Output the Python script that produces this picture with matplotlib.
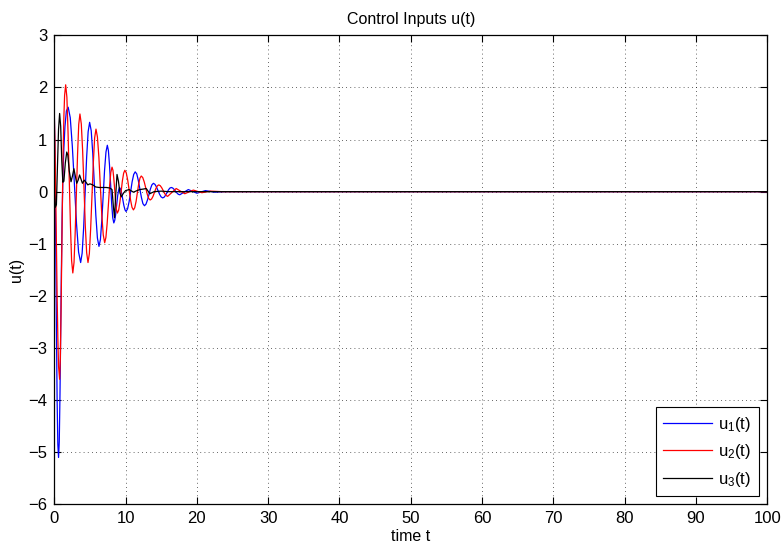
import matplotlib
matplotlib.use("Agg")
import matplotlib.pyplot as plt

# ---------------- data ----------------
t_u1 = [0, 0.1, 0.2, 0.3, 0.4, 0.5, 0.6, 0.7, 0.8, 0.9, 1.0, 1.1, 1.2, 1.35, 1.5, 1.7, 1.95,
        2.24, 2.53, 2.83, 3.12, 3.41, 3.7,
        3.91, 4.12, 4.33, 4.54, 4.75, 4.96,
        5.18, 5.40, 5.62, 5.83, 6.05, 6.27,
        6.47, 6.66, 6.86, 7.05, 7.25, 7.44,
        7.59, 7.74, 7.90, 8.05, 8.20, 8.35,
        8.48, 8.62, 8.75, 8.88, 9.02, 9.15,
        9.30, 9.46, 9.61, 9.76, 9.92, 10.07,
        10.28, 10.50, 10.71, 10.92, 11.14, 11.35,
        11.57, 11.78, 12.0, 12.22, 12.43, 12.65,
        12.86, 13.07, 13.28, 13.48, 13.69, 13.9,
        14.12, 14.33, 14.55, 14.77, 14.98, 15.2,
        15.4, 15.6, 15.8, 16.0, 16.2, 16.4,
        16.6, 16.8, 17.0, 17.2, 17.4, 17.6,
        18.2, 18.8, 19.4, 20.0, 20.6, 21.2, 21.85, 22.5, 24, 100]
u1 = [1.6, 0.6, -0.9, -2.6, -4.0, -4.85, -5.1, -4.8, -3.9, -2.7, -1.5, -0.5, 0.2, 0.85, 1.25, 1.55, 1.62,
      1.42, 0.875, 0.13, -0.615, -1.16, -1.36,
      -1.18, -0.69, -0.015, 0.66, 1.15, 1.33,
      1.17, 0.735, 0.14, -0.455, -0.89, -1.05,
      -0.92, -0.565, -0.08, 0.405, 0.76, 0.89,
      0.79, 0.52, 0.145, -0.23, -0.50, -0.6,
      -0.55, -0.43, -0.26, -0.09, 0.03, 0.08,
      0.05, -0.035, -0.15, -0.265, -0.35, -0.38,
      -0.33, -0.19, 0.0, 0.19, 0.33, 0.38,
      0.34, 0.22, 0.055, -0.11, -0.23, -0.27,
      -0.24, -0.16, -0.055, 0.05, 0.13, 0.16,
      0.14, 0.09, 0.02, -0.05, -0.10, -0.12,
      -0.107, -0.07, -0.02, 0.03, 0.067, 0.08,
      0.071, 0.045, 0.01, -0.025, -0.051, -0.06,
      -0.01, 0.04, 0.005, -0.03, -0.005, 0.02, 0.005, -0.01, 0.0, 0.0]

t_u2 = [0, 0.1, 0.2, 0.3, 0.4, 0.5, 0.6, 0.75, 0.85, 0.95, 1.05, 1.15, 1.25, 1.35, 1.45, 1.6,
        1.77, 1.93, 2.10, 2.27, 2.43, 2.6,
        2.77, 2.93, 3.10, 3.27, 3.43, 3.6,
        3.79, 3.98, 4.17, 4.35, 4.54, 4.73,
        4.92, 5.10, 5.29, 5.48, 5.66, 5.85,
        6.05, 6.26, 6.46, 6.66, 6.87, 7.07,
        7.24, 7.41, 7.59, 7.76, 7.93, 8.1,
        8.23, 8.35, 8.48, 8.60, 8.73, 8.85,
        9.03, 9.20, 9.38, 9.55, 9.73, 9.9,
        10.1, 10.3, 10.5, 10.7, 10.9, 11.1,
        11.28, 11.47, 11.65, 11.83, 12.02, 12.2,
        12.41, 12.62, 12.83, 13.03, 13.24, 13.45,
        13.65, 13.85, 14.05, 14.25, 14.45, 14.65,
        14.86, 15.07, 15.28, 15.48, 15.69, 15.9,
        16.5, 17.1, 17.7, 18.3, 18.9, 19.5, 20.1, 20.7, 21.3, 21.9, 23.5, 100]
u2 = [1.5, 0.9, 0.0, -1.0, -2.0, -2.8, -3.35, -3.6, -3.2, -2.3, -1.2, -0.1, 0.8, 1.45, 1.85, 2.05,
      1.81, 1.15, 0.245, -0.66, -1.32, -1.56,
      -1.36, -0.80, -0.035, 0.73, 1.29, 1.49,
      1.30, 0.78, 0.065, -0.65, -1.17, -1.36,
      -1.19, -0.72, -0.08, 0.56, 1.03, 1.2,
      1.05, 0.655, 0.11, -0.435, -0.83, -0.98,
      -0.88, -0.62, -0.255, 0.11, 0.37, 0.47,
      0.41, 0.25, 0.03, -0.19, -0.35, -0.41,
      -0.355, -0.205, 0.0, 0.205, 0.355, 0.41,
      0.36, 0.22, 0.03, -0.16, -0.30, -0.35,
      -0.31, -0.19, -0.025, 0.14, 0.26, 0.30,
      0.27, 0.185, 0.07, -0.045, -0.13, -0.16,
      -0.14, -0.09, -0.015, 0.06, 0.11, 0.13,
      0.115, 0.075, 0.02, -0.035, -0.075, -0.09,
      -0.015, 0.06, 0.01, -0.04, -0.005, 0.03, 0.005, -0.02, -0.005, 0.01, 0.0, 0.0]

t_u3 = [0, 0.15, 0.3, 0.45, 0.6, 0.75, 0.9, 1.05, 1.2, 1.35, 1.55, 1.75, 1.9, 2.1, 2.35, 2.55,
        2.75, 2.95, 3.15, 3.35, 3.55, 3.75, 3.95, 4.2, 4.45, 4.7, 5.0, 5.4, 5.8, 6.3, 6.8,
        7.3, 7.8, 8.1, 8.3, 8.45, 8.6, 8.8, 9.0, 9.2, 9.4, 9.7, 10.0, 10.5, 11.1, 11.6,
        12.0, 12.5, 12.9, 13.4, 14.0, 15.0, 16.0, 100]
u3 = [0.0, -0.3, -0.25, 0.5, 1.2, 1.5, 1.25, 0.6, 0.18, 0.2, 0.55, 0.76, 0.7, 0.4, 0.19, 0.3,
      0.44, 0.3, 0.16, 0.22, 0.32, 0.24, 0.16, 0.22, 0.18, 0.13, 0.15, 0.13, 0.09, 0.08, 0.08,
      0.08, 0.07, 0.04, -0.3, -0.5, -0.1, 0.33, 0.2, -0.02, -0.1, -0.03, 0.02, 0.04, -0.01, 0.02,
      0.04, 0.05, 0.06, -0.04, 0.0, 0.01, 0.0, 0.0]

labels = ["u$_1$(t)", "u$_2$(t)", "u$_3$(t)"]
colors = ["#0000ff", "#ff0000", "#000000"]
x_ticks = list(range(0, 101, 10))
y_ticks = list(range(-6, 4, 1))

# ---------------- figure ----------------
plt.rcParams['font.family'] = ['Liberation Sans', 'DejaVu Sans']
plt.rcParams['mathtext.fontset'] = 'custom'
plt.rcParams['mathtext.rm'] = 'Liberation Sans'
plt.rcParams['mathtext.it'] = 'Liberation Sans'
plt.rcParams['mathtext.default'] = 'regular'

fig = plt.figure(figsize=(7.82, 5.48), dpi=100)
ax = fig.add_axes([0.0694, 0.0796, 0.9812 - 0.0694, 0.9356 - 0.0796])

for tt, uu, lab, col in zip([t_u1, t_u2, t_u3], [u1, u2, u3], labels, colors):
    ax.plot(tt, uu, color=col, lw=0.9, label=lab)

ax.set_xlim(0, 100)
ax.set_ylim(-6, 3)
ax.set_xticks(x_ticks)
ax.set_yticks(y_ticks)
ax.tick_params(direction='in', length=5, width=0.8, top=True, right=True,
               labelsize=12, pad=5)
ax.grid(True, linestyle=(0, (1, 4)), color='black', linewidth=0.6, alpha=0.8)
for s in ax.spines.values():
    s.set_linewidth(0.9)

ax.set_title("Control Inputs u(t)", fontsize=11.5, pad=8)
ax.set_xlabel("time t", fontsize=11.5, labelpad=2)
ax.set_ylabel("u(t)", fontsize=11.5, labelpad=3)

leg = ax.legend(loc='lower right', fontsize=12, fancybox=False, framealpha=1,
                edgecolor='black', handlelength=2.9, handletextpad=0.4,
                borderaxespad=0.5, labelspacing=0.5, borderpad=0.45)
leg.get_frame().set_linewidth(0.8)

fig.savefig("out.png", dpi=100)
